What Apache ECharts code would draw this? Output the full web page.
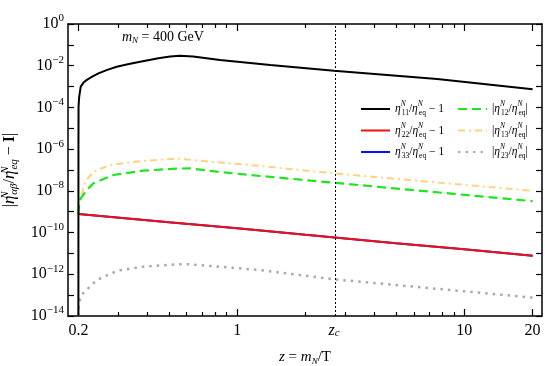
<!DOCTYPE html>
<html>
<head>
<meta charset="utf-8">
<script src="https://cdn.jsdelivr.net/npm/echarts@6/dist/echarts.min.js"></script>
<style>
  html, body { margin: 0; padding: 0; background: #fff; }
  #chart { width: 545px; height: 366px; }
</style>
</head>
<body>
<div id="chart"></div>
<script>
  // values (z = m_N/T, ratios)
  const zc = 2.67
  const zBlack = [0.2, 0.2001, 0.2003, 0.2008, 0.2016, 0.2048, 0.211, 0.218, 0.23, 0.245, 0.268, 0.295, 0.33, 0.374, 0.45, 0.507, 0.56, 0.64, 0.84, 1.40, 2.67, 7.6, 20]
  const eta11 = [1e-14, 1e-6, 1.0e-4, 1.7e-4, 3.2e-4, 1.0e-3, 1.6e-3, 2.1e-3, 3.0e-3, 4.3e-3, 6.3e-3, 8.9e-3, 1.17e-2, 1.55e-2, 2.3e-2, 2.8e-2, 3.0e-2, 2.8e-2, 1.86e-2, 1.07e-2, 5.75e-3, 2.3e-3, 7.4e-4]
  const zDiag = [0.2, 0.5, 1, 2, 5, 10, 20]
  const eta22 = [7.8e-10, 3.1e-10, 1.6e-10, 7.8e-11, 3.1e-11, 1.6e-11, 7.8e-12]
  const eta33 = [7.8e-10, 3.1e-10, 1.6e-10, 7.8e-11, 3.1e-11, 1.6e-11, 7.8e-12]
  const zGreen = [0.2, 0.2015, 0.2048, 0.218, 0.233, 0.285, 0.386, 0.543, 0.62, 0.816, 1.14, 2.67, 20]
  const eta12 = [7.9e-10, 2.0e-9, 4.4e-9, 1.1e-8, 2.3e-8, 5.75e-8, 9.3e-8, 1.17e-7, 1.2e-7, 8.3e-8, 5.75e-8, 2.45e-8, 3.2e-9]
  const zYellow = [0.2, 0.2015, 0.205, 0.214, 0.233, 0.276, 0.386, 0.55, 0.76, 1.14, 1.71, 2.67, 20]
  const eta13 = [1.0e-9, 2.0e-9, 4.5e-9, 2.75e-8, 8.3e-8, 1.74e-7, 2.75e-7, 3.5e-7, 2.5e-7, 1.74e-7, 1.12e-7, 6.9e-8, 1.0e-8]
  const zGray = [0.2, 0.2014, 0.21, 0.2416, 0.296, 0.385, 0.544, 0.62, 1.26, 2.67, 20]
  const eta23 = [1e-14, 4.9e-14, 1.26e-13, 5.4e-13, 1.48e-12, 2.3e-12, 3.0e-12, 3.0e-12, 1.6e-12, 5.75e-13, 7.6e-14]

  const xTickMajor = [0.2, 1, 10, 20]
  const xTickMinor = [0.3, 0.4, 0.5, 0.6, 0.7, 0.8, 0.9, 2, 3, 4, 5, 6, 7, 8, 9]
  const xLabelVals = [0.2, 1, zc, 10, 20]
  const xLabelText = ['0.2', '1', '{i|z}{c|c}', '10', '20']
  const yExpMin = -14
  const yExpMax = 0

  const F = 'Liberation Serif'
  const lg = Math.log10

  const pts = (zs, vs) => zs.map((z, i) => [lg(z), lg(vs[i])])

  const legRich = {
    i: { fontFamily: F, fontStyle: 'italic', fontSize: 11.5, lineHeight: 17 },
    n: { fontFamily: F, fontStyle: 'italic', fontSize: 7.5, lineHeight: 8, verticalAlign: 'top', width: 1 },
    s: { fontFamily: F, fontSize: 7.5, lineHeight: 8, verticalAlign: 'bottom' },
    t: { fontFamily: F, fontSize: 11.5, lineHeight: 17 }
  }
  const legText = {
    e11: '{i|η}{n|N}{s|11}{t|/}{i|η}{n|N}{s|eq}{t| − 1}',
    e22: '{i|η}{n|N}{s|22}{t|/}{i|η}{n|N}{s|eq}{t| − 1}',
    e33: '{i|η}{n|N}{s|33}{t|/}{i|η}{n|N}{s|eq}{t| − 1}',
    e12: '{t||}{i|η}{n|N}{s|12}{t|/}{i|η}{n|N}{s|eq}{t||}',
    e13: '{t||}{i|η}{n|N}{s|13}{t|/}{i|η}{n|N}{s|eq}{t||}',
    e23: '{t||}{i|η}{n|N}{s|23}{t|/}{i|η}{n|N}{s|eq}{t||}'
  }

  const xMin = lg(0.18)
  const xMax = lg(22)
  const lineC = '#000'

  function xAxisOf(pos, values, len, withLine, withLabel) {
    return {
      type: 'value', position: pos, min: xMin, max: xMax,
      axisLine: { show: withLine, onZero: false, lineStyle: { color: lineC, width: 1.5 } },
      axisTick: { show: true, inside: true, length: len, customValues: values.map(lg), lineStyle: { color: lineC, width: 1.2 } },
      axisLabel: withLabel ? {
        show: true, margin: 7, customValues: xLabelVals.map(lg),
        fontFamily: F, fontSize: 16, color: '#000',
        formatter: v => {
          let best = 0
          xLabelVals.forEach((x, i) => { if (Math.abs(lg(x) - v) < Math.abs(lg(xLabelVals[best]) - v)) best = i })
          return xLabelText[best]
        },
        rich: {
          i: { fontFamily: F, fontStyle: 'italic', fontSize: 16 },
          c: { fontFamily: F, fontStyle: 'italic', fontSize: 11, verticalAlign: 'bottom', lineHeight: 10 }
        }
      } : { show: false },
      splitLine: { show: false }
    }
  }

  const xAxes = [
    xAxisOf('bottom', xTickMajor, 7, true, true),
    xAxisOf('bottom', xTickMinor, 4, false, false),
    xAxisOf('top', xTickMajor, 7, true, false),
    xAxisOf('top', xTickMinor, 4, false, false)
  ]
  xAxes[0].name = '{i|z} = {i|m}{s|N}/T'
  xAxes[0].nameLocation = 'middle'
  xAxes[0].nameGap = 32
  xAxes[0].nameTextStyle = {
    fontFamily: F, fontSize: 15, color: '#000',
    rich: {
      i: { fontFamily: F, fontStyle: 'italic', fontSize: 15, lineHeight: 18 },
      s: { fontFamily: F, fontStyle: 'italic', fontSize: 9, lineHeight: 9, verticalAlign: 'bottom' }
    }
  }

  function yAxisOf(pos, withLabel) {
    return {
      type: 'value', position: pos, min: yExpMin, max: yExpMax, interval: 1,
      axisLine: { show: true, onZero: false, lineStyle: { color: lineC, width: 1.5 } },
      axisTick: { show: true, inside: true, length: 6, lineStyle: { color: lineC, width: 1.2 } },
      axisLabel: withLabel ? {
        show: true, margin: 4, color: '#000',
        formatter: v => {
          if (Math.round(v) % 2 !== 0) return ''
          const e = Math.round(v)
          return '{b|10}{e|' + (e < 0 ? '−' + (-e) : e) + '}'
        },
        rich: {
          b: { fontFamily: F, fontSize: 16, lineHeight: 22 },
          e: { fontFamily: F, fontSize: 11, lineHeight: 11, verticalAlign: 'top' }
        }
      } : { show: false },
      splitLine: { show: false }
    }
  }

  const yAxes = [yAxisOf('left', true), yAxisOf('right', false)]
  yAxes[0].name = '|{i|η}{n|N}{s|αβ}/{i|η}{n|N}{s|eq} − {b|I}|'
  yAxes[0].nameLocation = 'middle'
  yAxes[0].nameGap = 45
  yAxes[0].nameTextStyle = {
    fontFamily: F, fontSize: 16, color: '#000',
    rich: {
      i: { fontFamily: F, fontStyle: 'italic', fontSize: 17, lineHeight: 20 },
      n: { fontFamily: F, fontStyle: 'italic', fontSize: 11, lineHeight: 11, verticalAlign: 'top', width: 1 },
      s: { fontFamily: F, fontStyle: 'italic', fontSize: 11, lineHeight: 11, verticalAlign: 'bottom' },
      b: { fontFamily: F, fontWeight: 'bold', fontSize: 16, lineHeight: 20 }
    }
  }

  function lineSeries(name, data, color, width, type) {
    return {
      name: name, type: 'line', data: data, xAxisIndex: 0, yAxisIndex: 0,
      symbol: 'none', showSymbol: false, smooth: false, clip: true,
      lineStyle: { color: color, width: width, type: type || 'solid' },
      itemStyle: { color: color }
    }
  }

  const black = lineSeries('e11', pts(zBlack, eta11), '#000000', 2)
  black.markLine = {
    silent: true, symbol: 'none', label: { show: false },
    lineStyle: { color: '#000', width: 1, type: [2, 2] },
    data: [{ xAxis: lg(zc) }]
  }

  const series = [
    lineSeries('e23', pts(zGray, eta23), '#AAAAAA', 2.5, [2.5, 5]),
    lineSeries('e13', pts(zYellow, eta13), '#FFD27F', 2, [7, 4, 2, 4]),
    lineSeries('e12', pts(zGreen, eta12), '#1EE61E', 2.2, [9, 5]),
    lineSeries('e33', pts(zDiag, eta33), '#1010EE', 2),
    lineSeries('e22', pts(zDiag, eta22), '#EE1111', 2),
    black
  ]

  function legendOf(left, names) {
    return {
      orient: 'vertical', left: left, top: 100.5, padding: 0,
      itemWidth: 29, itemHeight: 12, itemGap: 4.5,
      data: names, selectedMode: false,
      itemStyle: { opacity: 0 },
      formatter: n => legText[n],
      textStyle: { fontFamily: F, fontSize: 11.5, lineHeight: 17, color: '#000', rich: legRich }
    }
  }

  const chart = echarts.init(document.getElementById('chart'), null, { renderer: 'canvas' })
  chart.setOption({
    animation: false,
    backgroundColor: '#fff',
    grid: { left: 68, right: 3, top: 24, bottom: 50, containLabel: false, outerBoundsMode: 'none' },
    xAxis: xAxes,
    yAxis: yAxes,
    legend: [legendOf(360, ['e11', 'e22', 'e33']), legendOf(457, ['e12', 'e13', 'e23'])],
    graphic: [{
      type: 'text', left: 122, top: 30,
      style: {
        text: '{i|m}{s|N} = 400 GeV',
        fontFamily: F, fontSize: 14, fill: '#000',
        rich: {
          i: { fontFamily: F, fontStyle: 'italic', fontSize: 14, lineHeight: 17 },
          s: { fontFamily: F, fontStyle: 'italic', fontSize: 9, lineHeight: 9, verticalAlign: 'bottom' }
        }
      }
    }],
    series: series
  })
</script>
</body>
</html>
